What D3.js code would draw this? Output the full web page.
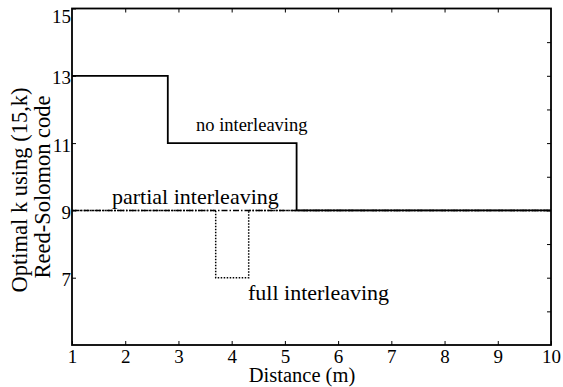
<!DOCTYPE html>
<html><head><meta charset="utf-8">
<script src="https://cdn.jsdelivr.net/npm/d3@7"></script>
<style>body{margin:0;background:#fff}svg{display:block}text{font-family:"Liberation Serif","Times New Roman",serif;fill:#000}</style>
</head><body><svg id="c" width="563" height="387"></svg>
<script>
const xTicks = [1,2,3,4,5,6,7,8,9,10];
const yTickLabels = [7,9,11,13,15];
const yMinorTicks = [6,7,8,9,10,11,12,13,14];
const noInterleaving = [[1,13],[2.8,13],[2.8,11],[5.22,11],[5.22,9],[10,9]];
const partialInterleaving = [[1,9],[10,9]];
const fullInterleaving = [[1,9],[3.7,9],[3.7,7],[4.32,7],[4.32,9],[10,9]];

const svg = d3.select("#c");
const x = d3.scaleLinear().domain([1,10]).range([72,551]);
const y = d3.scaleLinear().domain([5,15]).range([345,8.5]);
const line = d3.line().x(d=>x(d[0])).y(d=>y(d[1]));

const fs = 19;
// bottom axis
svg.append("g").attr("transform",`translate(0,${y(5)})`)
  .call(d3.axisBottom(x).tickValues(xTicks).tickFormat(d3.format("d")).tickSizeInner(-4).tickSizeOuter(0).tickPadding(5))
  .call(g=>{g.select(".domain").remove();g.selectAll("text").style("font-size",fs+"px").attr("font-family",null);g.selectAll("line").attr("stroke","#000");});
// top ticks
svg.append("g").attr("transform",`translate(0,${y(15)})`)
  .call(d3.axisTop(x).tickValues(xTicks.slice(1,-1)).tickFormat("").tickSizeInner(-4).tickSizeOuter(0))
  .call(g=>g.select(".domain").remove());
// left axis
svg.append("g").attr("transform",`translate(${x(1)},0)`)
  .call(d3.axisLeft(y).tickValues(yTickLabels).tickFormat(d3.format("d")).tickSizeInner(-4).tickSizeOuter(0).tickPadding(1))
  .call(g=>{g.select(".domain").remove();g.selectAll("text").style("font-size",fs+"px").attr("font-family",null)
    .attr("dy",d=>d===15?"0.72em":"0.42em");});
// right ticks
svg.append("g").attr("transform",`translate(${x(10)},0)`)
  .call(d3.axisRight(y).tickValues(yMinorTicks).tickFormat("").tickSizeInner(-4).tickSizeOuter(0))
  .call(g=>g.select(".domain").remove());

// lines
svg.append("path").datum(fullInterleaving).attr("d",line).attr("fill","none").attr("stroke","#000").attr("stroke-width",1.5).attr("stroke-dasharray","1.5,1.5");
svg.append("path").datum(partialInterleaving).attr("d",line).attr("fill","none").attr("stroke","#000").attr("stroke-width",1.5).attr("stroke-dasharray","6,2,1.5,2");
svg.append("path").datum(noInterleaving).attr("d",line).attr("fill","none").attr("stroke","#000").attr("stroke-width",1.8);

// frame
svg.append("rect").attr("x",x(1)).attr("y",y(15)).attr("width",x(10)-x(1)).attr("height",y(5)-y(15))
  .attr("fill","none").attr("stroke","#000").attr("stroke-width",1.8);

// annotations
svg.append("text").attr("x",196).attr("y",131).style("font-size","18.5px").text("no interleaving");
svg.append("text").attr("x",112).attr("y",204).style("font-size","22px").text("partial interleaving");
svg.append("text").attr("x",248).attr("y",300).style("font-size","22px").text("full interleaving");

// axis titles
svg.append("text").attr("x",302).attr("y",382).attr("text-anchor","middle").style("font-size","20.5px").text("Distance (m)");
svg.append("text").attr("transform","translate(27,190) rotate(-90)").attr("text-anchor","middle").style("font-size","22.5px").text("Optimal k using (15,k)");
svg.append("text").attr("transform","translate(50,187) rotate(-90)").attr("text-anchor","middle").style("font-size","22.5px").text("Reed-Solomon code");
</script></body></html>
